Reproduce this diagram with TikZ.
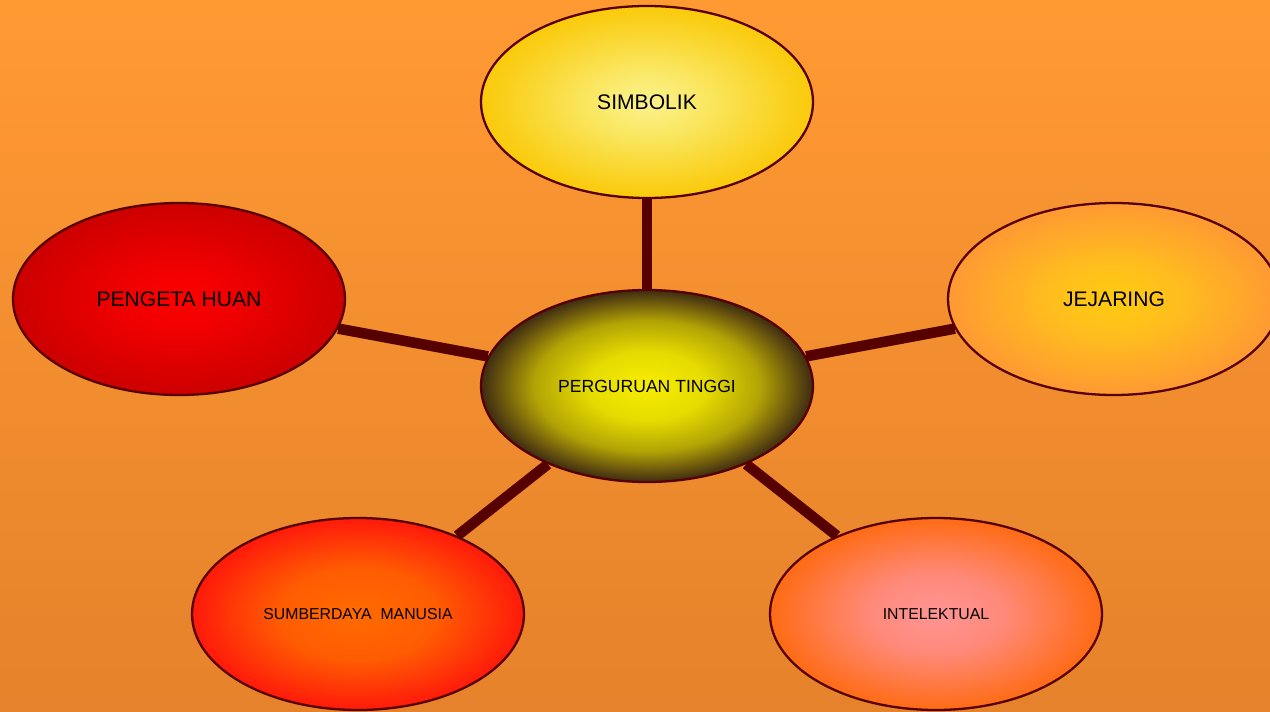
\documentclass[tikz,border=0pt]{standalone}
\usepackage{fontspec}
\setmainfont{Liberation Sans}
\usepackage{tikz}
\usetikzlibrary{shapes.geometric}
\usetikzlibrary{backgrounds}

\definecolor{rim}{HTML}{560000}
\definecolor{bgtop}{HTML}{FF9A33}
\definecolor{bgbot}{HTML}{E5822B}

% radial fills, wider inner part than the plain radial shading
\pgfdeclareradialshading{simbfill}{\pgfpoint{0bp}{0bp}}{rgb(0bp)=(0.98,0.95,0.55); rgb(8bp)=(0.98,0.91,0.40);
  rgb(18bp)=(0.98,0.84,0.18); rgb(25bp)=(0.98,0.79,0.04); rgb(50bp)=(0.98,0.79,0.04)}
\pgfdeclareradialshading{pengfill}{\pgfpoint{0bp}{0bp}}{rgb(0bp)=(1,0,0); rgb(10bp)=(0.93,0,0);
  rgb(25bp)=(0.80,0,0); rgb(50bp)=(0.80,0,0)}
\pgfdeclareradialshading{ptfill}{\pgfpoint{0bp}{0bp}}{rgb(0bp)=(0.97,0.93,0); rgb(9bp)=(0.90,0.86,0);
  rgb(17bp)=(0.70,0.64,0.02); rgb(22bp)=(0.42,0.34,0.05); rgb(25bp)=(0.24,0.17,0.07); rgb(50bp)=(0.24,0.17,0.07)}
\pgfdeclareradialshading{jejfill}{\pgfpoint{0bp}{0bp}}{rgb(0bp)=(1,0.80,0.06); rgb(10bp)=(1,0.74,0.12);
  rgb(25bp)=(1,0.60,0.20); rgb(50bp)=(1,0.60,0.20)}
\pgfdeclareradialshading{sdmfill}{\pgfpoint{0bp}{0bp}}{rgb(0bp)=(1,0.42,0); rgb(12bp)=(1,0.36,0.01);
  rgb(25bp)=(1,0.10,0.04); rgb(50bp)=(1,0.10,0.04)}
\pgfdeclareradialshading{intelfill}{\pgfpoint{0bp}{0bp}}{rgb(0bp)=(1,0.58,0.58); rgb(10bp)=(1,0.54,0.48);
  rgb(25bp)=(1,0.42,0.08); rgb(50bp)=(1,0.42,0.08)}

\begin{document}
\begin{tikzpicture}
	\useasboundingbox (0,0) rectangle (25.4,14.22);
	\begin{scope}[every node/.style={ellipse, draw=rim, line width=1.3pt, inner sep=0pt, shade,
	              minimum width=6.64cm, minimum height=3.84cm, text=black}]
		\node[shading=simbfill, font=\fontsize{12}{14}\selectfont] (simb) at (12.94,12.18) {SIMBOLIK};
		\node[shading=pengfill, font=\fontsize{12}{14}\selectfont] (peng) at (3.58,8.24) {PENGETA HUAN};
		\node[shading=ptfill, font=\fontsize{10}{12}\selectfont] (pt) at (12.94,6.50) {PERGURUAN TINGGI};
		\node[shading=jejfill, font=\fontsize{12}{14}\selectfont] (jej) at (22.28,8.24) {JEJARING};
		\node[shading=sdmfill, font=\fontsize{9}{11}\selectfont] (sdm) at (7.16,1.94) {SUMBERDAYA\ \ MANUSIA};
		\node[shading=intelfill, font=\fontsize{9}{11}\selectfont] (intel) at (18.72,1.94) {INTELEKTUAL};
	\end{scope}

	\begin{scope}[every edge/.style={draw=rim, line width=6pt}]
		\path (pt) edge (simb);
		\path (pt) edge (peng);
		\path (pt) edge (jej);
		\path (pt) edge (sdm);
		\path (pt) edge (intel);
	\end{scope}

	\begin{scope}[on background layer]
		\shade[top color=bgtop, bottom color=bgbot] (0,0) rectangle (25.4,14.22);
	\end{scope}
\end{tikzpicture}
\end{document}
